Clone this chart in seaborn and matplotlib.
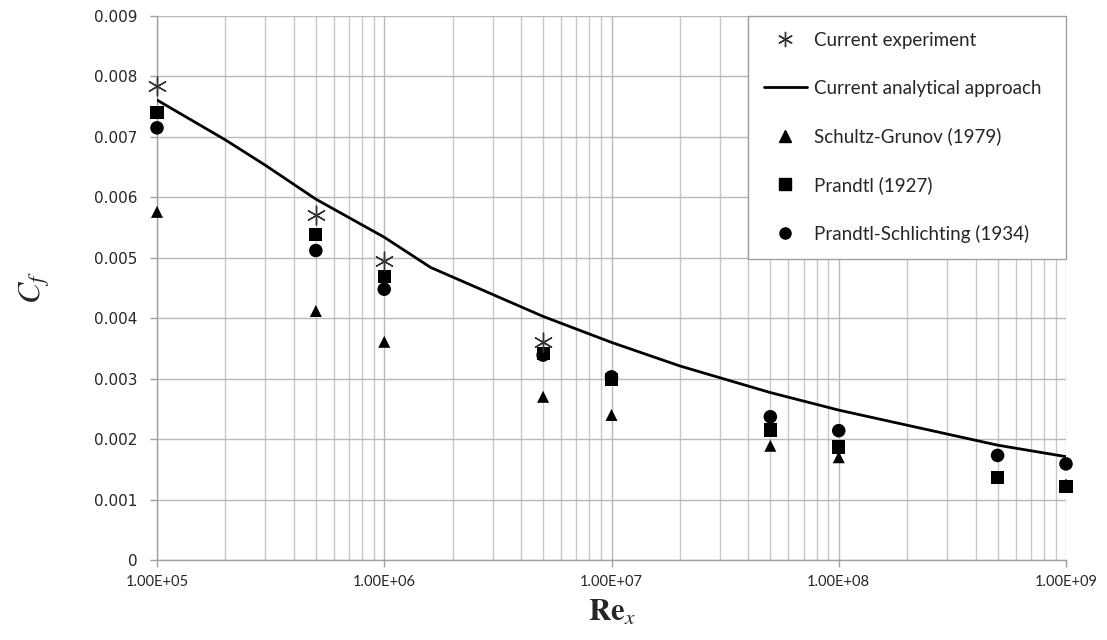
import matplotlib
matplotlib.use("Agg")
import matplotlib.pyplot as plt
import seaborn as sns
import numpy as np
import pandas as pd
from matplotlib.lines import Line2D
from matplotlib.ticker import LogLocator, NullFormatter

# ---- data ----
re_exp = [1e5, 5e5, 1e6, 5e6]
cf_exp = [0.00784, 0.00571, 0.00494, 0.00360]

re_line = [1e5, 2e5, 3e5, 5e5, 1e6, 1.6e6, 5e6, 1e7, 2e7, 5e7, 1e8, 2e8, 5e8, 1e9]
cf_line = [0.00761, 0.00695, 0.00653, 0.00597, 0.00534, 0.00484, 0.00403, 0.00360,
           0.00321, 0.00277, 0.00248, 0.00223, 0.00190, 0.00171]

re_ref = [1e5, 5e5, 1e6, 5e6, 1e7, 5e7, 1e8, 5e8, 1e9]
cf_schultz = [0.00576, 0.00412, 0.00361, 0.00270, 0.00240, 0.00189, 0.00170, 0.00136, 0.00125]
cf_prandtl = [0.00741, 0.00538, 0.00469, 0.00342, 0.00298, 0.00215, 0.00187, 0.00137, 0.00121]
cf_pschl = [0.00715, 0.00512, 0.00448, 0.00339, 0.00303, 0.00237, 0.00214, 0.00173, 0.00159]

x_ticks = [1e5, 1e6, 1e7, 1e8, 1e9]
x_ticklabels = ["1.00E+05", "1.00E+06", "1.00E+07", "1.00E+08", "1.00E+09"]
y_ticks = [0, 0.001, 0.002, 0.003, 0.004, 0.005, 0.006, 0.007, 0.008, 0.009]
y_ticklabels = ["0", "0.001", "0.002", "0.003", "0.004", "0.005", "0.006", "0.007", "0.008", "0.009"]

labels = ["Current experiment", "Current analytical approach", "Schultz-Grunov (1979)",
          "Prandtl (1927)", "Prandtl-Schlichting (1934)"]

# ---- plot ----
sns.set_theme(style="white")
plt.rcParams['font.family'] = ['Lato', 'DejaVu Sans']
plt.rcParams['mathtext.fontset'] = 'stix'

fig = plt.figure(figsize=(11.07, 6.40), dpi=100)
ax = fig.add_axes([157/1107, 1-560/640, (1066-157)/1107, (560-16)/640])

df_line = pd.DataFrame({"Re": re_line, "Cf": cf_line})
sns.lineplot(data=df_line, x="Re", y="Cf", ax=ax, color="black", lw=2, zorder=3)

df_ref = pd.DataFrame({"Re": re_ref, "S": cf_schultz, "P": cf_prandtl, "PS": cf_pschl})
sns.scatterplot(data=df_ref, x="Re", y="S", ax=ax, marker="^", s=75, color="black",
                edgecolor="none", zorder=4, clip_on=False)
sns.scatterplot(data=df_ref, x="Re", y="P", ax=ax, marker="s", s=90, color="black",
                edgecolor="none", zorder=5, clip_on=False)
sns.scatterplot(data=df_ref, x="Re", y="PS", ax=ax, marker="o", s=95, color="black",
                edgecolor="none", zorder=4, clip_on=False)
df_exp = pd.DataFrame({"Re": re_exp, "Cf": cf_exp})
sns.scatterplot(data=df_exp, x="Re", y="Cf", ax=ax, marker=(6, 2, 0), s=180,
                color="#333333", linewidth=1.0, zorder=6, clip_on=False)

ax.set_xscale("log")
ax.set_xlim(1e5, 1e9)
ax.set_ylim(0, 0.009)
ax.set_xticks(x_ticks)
ax.set_xticklabels(x_ticklabels)
ax.xaxis.set_minor_locator(LogLocator(base=10, subs=np.arange(2, 10), numticks=50))
ax.xaxis.set_minor_formatter(NullFormatter())
ax.set_yticks(y_ticks)
ax.set_yticklabels(y_ticklabels, fontfamily="DejaVu Sans", fontsize=11)

ax.grid(True, which="major", color="#b8b8b8", lw=1.0, zorder=0)
ax.grid(True, which="minor", axis="x", color="#c8c8c8", lw=1.0, zorder=0)
ax.set_axisbelow(True)
for s in ["top", "right"]:
    ax.spines[s].set_visible(False)
for s in ["left", "bottom"]:
    ax.spines[s].set_color("#a0a0a0")
    ax.spines[s].set_linewidth(1.0)
ax.tick_params(axis="both", which="major", length=5, color="#a0a0a0", width=1,
               labelcolor="#262626", bottom=True, left=True, pad=6)
ax.tick_params(axis="y", which="major", pad=9)
ax.tick_params(axis="x", which="major", labelsize=10.5)
ax.tick_params(axis="x", which="minor", length=0)

ax.set_xlabel(r"$\mathbf{Re}_{\mathit{x}}$", fontsize=22, labelpad=6)
ax.set_ylabel(r"$\mathit{C_f}$", fontsize=23, labelpad=30)

handles = [
    Line2D([], [], ls="none", marker=(6, 2, 0), ms=11, color="#333333", mew=1.0),
    Line2D([], [], color="black", lw=2),
    Line2D([], [], ls="none", marker="^", ms=8, color="black"),
    Line2D([], [], ls="none", marker="s", ms=8, color="black"),
    Line2D([], [], ls="none", marker="o", ms=8, color="black"),
]
leg = ax.legend(handles, labels, loc="upper left",
                bbox_to_anchor=(0.650, 0.50, 0.350, 0.50), mode="expand",
                frameon=True, fancybox=False, fontsize=13.5, labelspacing=1.64,
                handlelength=2.3, handletextpad=0.4, borderpad=0.85, borderaxespad=0.0)
leg.get_frame().set_edgecolor("#a0a0a0")
leg.get_frame().set_linewidth(1.0)
leg.get_frame().set_facecolor("white")
leg.get_frame().set_alpha(1.0)
leg.set_zorder(10)

fig.savefig("out.png", dpi=100)
